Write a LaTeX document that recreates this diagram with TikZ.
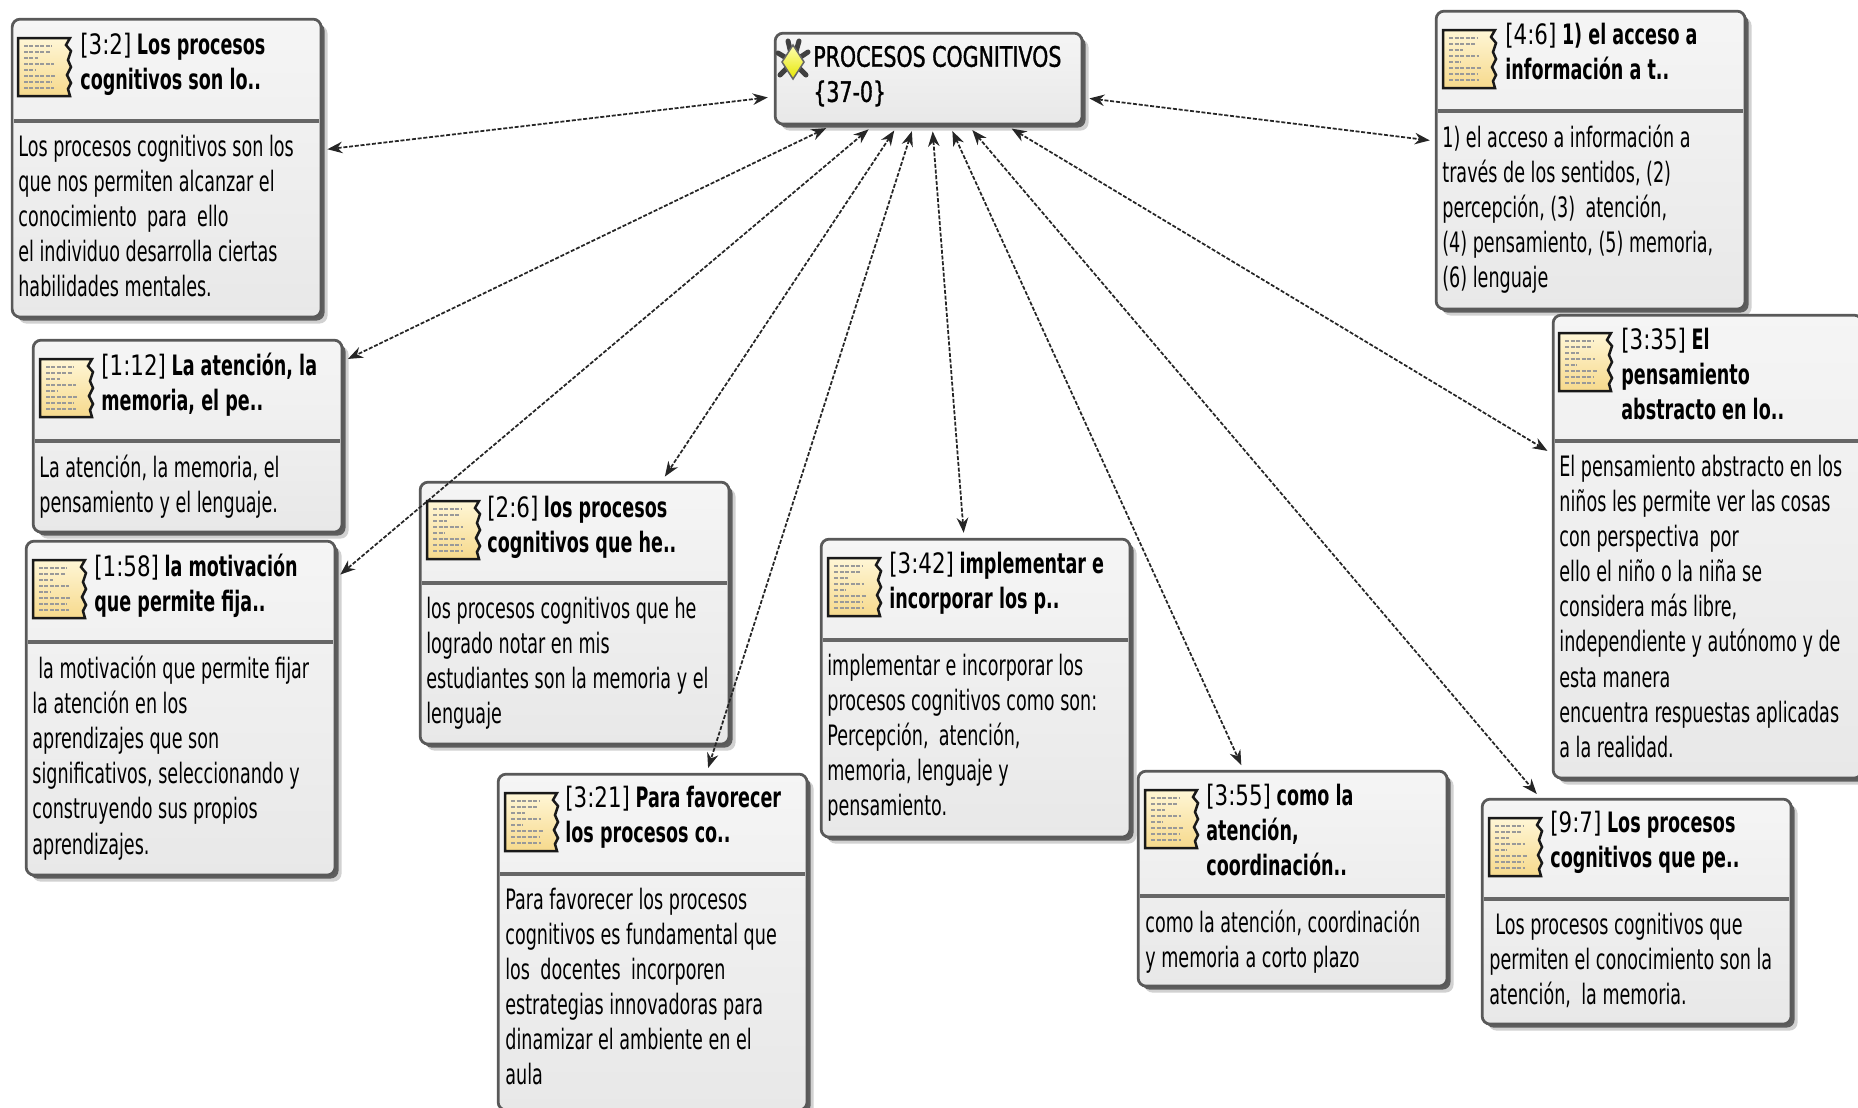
\documentclass[tikz,border=0pt]{standalone}
\usepackage{fontspec}
\setmainfont[FakeStretch=0.625]{DejaVu Sans}
\newfontface\tagfont[FakeStretch=0.76]{DejaVu Sans}
\newfontface\centralfont[FakeStretch=0.73,FakeBold=1.2]{DejaVu Sans}
\usetikzlibrary{arrows.meta,shadows}
\definecolor{notelight}{HTML}{FFF6D6}
\definecolor{notedark}{HTML}{F6D98C}
\tikzset{
  quotebox/.style={draw=black!65, line width=0.055cm, rounded corners=0.16cm, anchor=north west,
    xshift=-0.025cm, yshift=0.025cm,
    top color=black!4, bottom color=black!9, minimum width=6.18cm,
    general shadow={shadow xshift=0.13cm, shadow yshift=-0.13cm, fill=black, opacity=0.18},
    general shadow={shadow xshift=0.07cm, shadow yshift=-0.07cm, fill=black, opacity=0.55}},
  quotesep/.style={draw=black!60, line width=0.075cm, shorten >=0.07cm, shorten <=0.07cm},
  quotetext/.style={anchor=north west, inner sep=0pt, yshift=-0.11cm, align=left,
    font=\fontsize{16}{20}\selectfont, execute at begin node=\strut},
  linkarrow/.style={draw=black!85, dash pattern=on 0.08cm off 0.035cm, line width=0.035cm,
    shorten >=0.1cm, shorten <=0.12cm,
    {Stealth[length=0.3cm,width=0.23cm]}-{Stealth[length=0.3cm,width=0.23cm]}},
  noteicon/.pic={
    \draw[draw=black!90, line width=0.05cm, top color=notelight, bottom color=notedark]
      (0,0) -- (52,0) -- (48,7) -- (53,13) -- (50,22) -- (53,29) -- (49,37) -- (53,45) -- (50,51) -- (52,58) -- (0,58) -- cycle;
    \foreach \row/\len in {8/28,14/26,20/14,26/30,32/12,38/32,44/28,50/30}
      \draw[black!40, line width=0.03cm, dash pattern=on 0.08cm off 0.03cm] (6,\row) -- ++(\len,0);
  },
  ruleicon/.pic={
    \foreach \dx/\dy in {-5/-21,6/-21,-15/-9,15/-10,-13/13,13/13}
      \draw[black!75, line width=0.1cm, line cap=round] (0,0) -- (\dx,\dy);
    \draw[draw=black!60, line width=0.03cm, top color=yellow!30, bottom color=yellow!90!black]
      (0,-17) -- (11,0) -- (0,17) -- (-11,0) -- cycle;
  },
}
\newcommand{\quotetag}[1]{{\tagfont #1}}
\begin{document}
\begin{tikzpicture}[x=0.02cm,y=-0.02cm]
  \useasboundingbox (0,0) rectangle (1858,1107);

  % code in the middle
  \node[quotebox, minimum width=6.14cm, minimum height=1.82cm] (central) at (775,33) {};
  \pic at (793,62) {ruleicon};
  \node[quotetext] (centraltext) at (813,40) {\centralfont PROCESOS COGNITIVOS\\\centralfont\{37-0\}};

  % quotations
  \node[quotebox, minimum height=5.96cm] (q32) at (12,19) {};
  \pic at (18,38) {noteicon};
  \node[quotetext] (q32title) at (80,27) {\quotetag{[3:2]} \textbf{Los procesos}\\\textbf{cognitivos son lo..}};
  \draw[quotesep] (q32.west |- 0,121) -- (q32.east |- 0,121);
  \node[quotetext] (q32body) at (18,129) {Los procesos cognitivos son los\\que nos permiten alcanzar el\\conocimiento\, para\, ello\\el individuo desarrolla ciertas\\habilidades mentales.};

  \node[quotebox, minimum height=5.96cm] (q46) at (1436,11) {};
  \pic at (1443,30) {noteicon};
  \node[quotetext] (q46title) at (1505,17) {\quotetag{[4:6]} \textbf{1) el acceso a}\\\textbf{información a t..}};
  \draw[quotesep] (q46.west |- 0,111) -- (q46.east |- 0,111);
  \node[quotetext] (q46body) at (1442,119) {1) el acceso a información a\\través de los sentidos, (2)\\percepción, (3)\, atención,\\(4) pensamiento, (5) memoria,\\(6) lenguaje};

  \node[quotebox, minimum height=9.26cm] (q335) at (1553,315) {};
  \pic at (1559,333) {noteicon};
  \node[quotetext] (q335title) at (1621,322) {\quotetag{[3:35]} \textbf{El}\\\textbf{pensamiento}\\\textbf{abstracto en lo..}};
  \draw[quotesep] (q335.west |- 0,441) -- (q335.east |- 0,441);
  \node[quotetext] (q335body) at (1559,449) {El pensamiento abstracto en los\\niños les permite ver las cosas\\con perspectiva\, por\\ello el niño o la niña se\\considera más libre,\\independiente y autónomo y de\\esta manera\\encuentra respuestas aplicadas\\a la realidad.};

  \node[quotebox, minimum height=3.84cm] (q112) at (33,340) {};
  \pic at (40,359) {noteicon};
  \node[quotetext] (q112title) at (101,347) {\quotetag{[1:12]} \textbf{La atención, la}\\\textbf{memoria, el pe..}};
  \draw[quotesep] (q112.west |- 0,441) -- (q112.east |- 0,441);
  \node[quotetext] (q112body) at (39,449) {La atención, la memoria, el\\pensamiento y el lenguaje.};

  \node[quotebox, minimum height=6.68cm] (q158) at (26,541) {};
  \pic at (33,560) {noteicon};
  \node[quotetext] (q158title) at (94,548) {\quotetag{[1:58]} \textbf{la motivación}\\\textbf{que permite fija..}};
  \draw[quotesep] (q158.west |- 0,642) -- (q158.east |- 0,642);
  \node[quotetext] (q158body) at (32,650) {\hspace{0.12cm}la motivación que permite fijar\\la atención en los\\aprendizajes que son\\significativos, seleccionando y\\construyendo sus propios\\aprendizajes.};

  \node[quotebox, minimum height=5.24cm] (q26) at (420,482) {};
  \pic at (427,501) {noteicon};
  \node[quotetext] (q26title) at (487,490) {\quotetag{[2:6]} \textbf{los procesos}\\\textbf{cognitivos que he..}};
  \draw[quotesep] (q26.west |- 0,583) -- (q26.east |- 0,583);
  \node[quotetext] (q26body) at (426,591) {los procesos cognitivos que he\\logrado notar en mis\\estudiantes son la memoria y el\\lenguaje};

  \node[quotebox, minimum height=5.96cm] (q342) at (821,539) {};
  \pic at (828,558) {noteicon};
  \node[quotetext] (q342title) at (889,546) {\quotetag{[3:42]} \textbf{implementar e}\\\textbf{incorporar los p..}};
  \draw[quotesep] (q342.west |- 0,640) -- (q342.east |- 0,640);
  \node[quotetext] (q342body) at (827,648) {implementar e incorporar los\\procesos cognitivos como son:\\Percepción,\, atención,\\memoria, lenguaje y\\pensamiento.};

  \node[quotebox, minimum height=6.72cm] (q321) at (498,774) {};
  \pic at (505,793) {noteicon};
  \node[quotetext] (q321title) at (565,780) {\quotetag{[3:21]} \textbf{Para favorecer}\\\textbf{los procesos co..}};
  \draw[quotesep] (q321.west |- 0,874) -- (q321.east |- 0,874);
  \node[quotetext] (q321body) at (505,882) {Para favorecer los procesos\\cognitivos es fundamental que\\los\, docentes\, incorporen\\estrategias innovadoras para\\dinamizar el ambiente en el\\aula};

  \node[quotebox, minimum height=4.3cm] (q355) at (1138,771) {};
  \pic at (1145,790) {noteicon};
  \node[quotetext] (q355title) at (1206,778) {\quotetag{[3:55]} \textbf{como la}\\\textbf{atención,}\\\textbf{coordinación..}};
  \draw[quotesep] (q355.west |- 0,896) -- (q355.east |- 0,896);
  \node[quotetext] (q355body) at (1145,904) {como la atención, coordinación\\y memoria a corto plazo};

  \node[quotebox, minimum height=4.5cm] (q97) at (1482,799) {};
  \pic at (1489,818) {noteicon};
  \node[quotetext] (q97title) at (1550,805) {\quotetag{[9:7]} \textbf{Los procesos}\\\textbf{cognitivos que pe..}};
  \draw[quotesep] (q97.west |- 0,899) -- (q97.east |- 0,899);
  \node[quotetext] (q97body) at (1489,907) {\hspace{0.12cm}Los procesos cognitivos que\\permiten el conocimiento son la\\atención,\, la memoria.};

  % links
  \foreach \target in {q32,q46,q335,q112,q158,q26,q342,q321,q355,q97}
    \draw[linkarrow] (central) -- (\target);
\end{tikzpicture}
\end{document}
